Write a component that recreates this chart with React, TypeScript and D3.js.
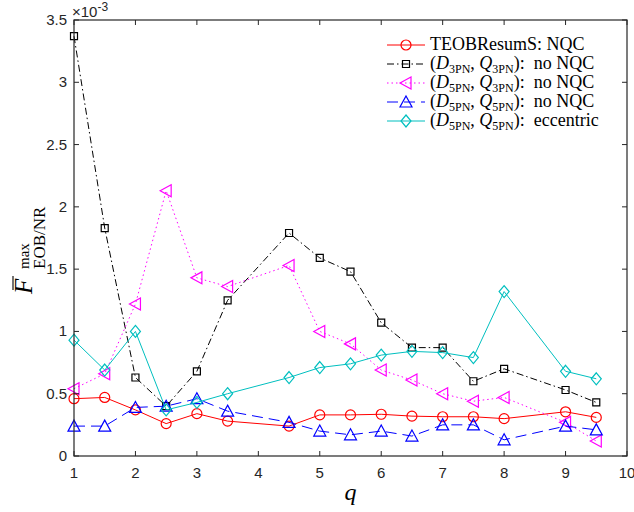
import React from 'react';
import * as d3 from 'd3';

// mass ratio q
const qValues = [1, 1.5, 2, 2.5, 3, 3.5, 4.5, 5, 5.5, 6, 6.5, 7, 7.5, 8, 9, 9.5];

// values in units of 1e-3
const teobNqc = [0.46, 0.47, 0.37, 0.26, 0.34, 0.28, 0.24, 0.33, 0.33, 0.335, 0.32, 0.315, 0.315, 0.30, 0.355, 0.31];
const d3q3NoNqc = [3.37, 1.83, 0.63, 0.40, 0.68, 1.25, 1.79, 1.59, 1.48, 1.07, 0.87, 0.87, 0.60, 0.70, 0.53, 0.43];
const d5q3NoNqc = [0.54, 0.66, 1.22, 2.13, 1.43, 1.36, 1.53, 1.00, 0.90, 0.69, 0.61, 0.50, 0.44, 0.47, 0.27, 0.12];
const d5q5NoNqc = [0.24, 0.24, 0.39, 0.40, 0.46, 0.36, 0.27, 0.20, 0.17, 0.20, 0.16, 0.25, 0.25, 0.13, 0.24, 0.21];
const d5q5Ecc = [0.93, 0.69, 1.00, 0.37, 0.43, 0.50, 0.63, 0.71, 0.74, 0.81, 0.84, 0.83, 0.79, 1.32, 0.68, 0.62];

const xTicks = [1, 2, 3, 4, 5, 6, 7, 8, 9, 10];
const yTicks = [0, 0.5, 1, 1.5, 2, 2.5, 3, 3.5];

type Marker = 'circle' | 'square' | 'triLeft' | 'triUp' | 'diamond';

const series: { key: string; values: number[]; color: string; dash: string; marker: Marker }[] = [
  { key: 'teob', values: teobNqc, color: '#ff0000', dash: '', marker: 'circle' },
  { key: 'd3q3', values: d3q3NoNqc, color: '#000000', dash: '7,3,1.5,3', marker: 'square' },
  { key: 'd5q3', values: d5q3NoNqc, color: '#ff00ff', dash: '1.5,3', marker: 'triLeft' },
  { key: 'd5q5', values: d5q5NoNqc, color: '#0000ff', dash: '11,6', marker: 'triUp' },
  { key: 'ecc', values: d5q5Ecc, color: '#00bfbf', dash: '', marker: 'diamond' },
];

const W = 634;
const H = 512;
const margin = { left: 74, right: 7, top: 20, bottom: 56 };

function markerPath(m: Marker): string {
  switch (m) {
    case 'circle':
      return 'M5,0A5,5 0 1,1 -5,0A5,5 0 1,1 5,0Z';
    case 'square':
      return 'M-3.5,-3.5H3.5V3.5H-3.5Z';
    case 'triLeft':
      return 'M-6,0L5,-6L5,6Z';
    case 'triUp':
      return 'M0,-6L6,5L-6,5Z';
    case 'diamond':
      return 'M0,-6L5,0L0,6L-5,0Z';
  }
}

const Sub = ({ children }: { children: React.ReactNode }) => (
  <tspan fontSize={12} dy={4}>{children}</tspan>
);

function LegendLabel({ i }: { i: number }) {
  if (i === 0) return <>TEOBResumS: NQC</>;
  const pairs = [
    ['3PN', '3PN', 'no NQC'],
    ['5PN', '3PN', 'no NQC'],
    ['5PN', '5PN', 'no NQC'],
    ['5PN', '5PN', 'eccentric'],
  ][i - 1];
  return (
    <>
      <tspan>(</tspan>
      <tspan fontStyle="italic">D</tspan>
      <Sub>{pairs[0]}</Sub>
      <tspan dy={-4}>,{'\u00a0'}</tspan>
      <tspan fontStyle="italic">Q</tspan>
      <Sub>{pairs[1]}</Sub>
      <tspan dy={-4}>):{'\u00a0\u00a0'}{pairs[2]}</tspan>
    </>
  );
}

export default function App() {
  const x = d3.scaleLinear().domain([1, 10]).range([margin.left, W - margin.right]);
  const y = d3.scaleLinear().domain([0, 3.5]).range([H - margin.bottom, margin.top]);
  const line = d3
    .line<number>()
    .x((_, i) => x(qValues[i]))
    .y((d) => y(d));

  const x0 = x.range()[0];
  const x1 = x.range()[1];
  const y0 = y.range()[0];
  const y1 = y.range()[1];
  const tickLen = 5;
  const sans = 'Liberation Sans, Arial, sans-serif';
  const serif = 'Liberation Serif, Times New Roman, serif';

  return (
    <svg width={W} height={H} style={{ position: 'absolute', left: 0, top: 0, background: '#fff' }}>
      <rect width={W} height={H} fill="#fff" />

      {/* series */}
      {series.map((s) => (
        <g key={s.key}>
          <path d={line(s.values) ?? ''} fill="none" stroke={s.color} strokeWidth={1} strokeDasharray={s.dash} />
          {s.values.map((v, i) => (
            <path
              key={i}
              d={markerPath(s.marker)}
              transform={`translate(${x(qValues[i])},${y(v)})`}
              fill="none"
              stroke={s.color}
              strokeWidth={1.2}
            />
          ))}
        </g>
      ))}

      {/* axes box + ticks */}
      <rect x={x0} y={y1} width={x1 - x0} height={y0 - y1} fill="none" stroke="#262626" strokeWidth={1.2} />
      {xTicks.map((t) => (
        <g key={'x' + t}>
          <line x1={x(t)} x2={x(t)} y1={y0} y2={y0 - tickLen} stroke="#262626" />
          <line x1={x(t)} x2={x(t)} y1={y1} y2={y1 + tickLen} stroke="#262626" />
          <text x={x(t)} y={y0 + 22} textAnchor="middle" fontFamily={sans} fontSize={15} fill="#262626">
            {t}
          </text>
        </g>
      ))}
      {yTicks.map((t) => (
        <g key={'y' + t}>
          <line x1={x0} x2={x0 + tickLen} y1={y(t)} y2={y(t)} stroke="#262626" />
          <line x1={x1} x2={x1 - tickLen} y1={y(t)} y2={y(t)} stroke="#262626" />
          <text x={x0 - 7} y={y(t) + 5} textAnchor="end" fontFamily={sans} fontSize={15} fill="#262626">
            {t}
          </text>
        </g>
      ))}

      {/* exponent */}
      <text x={x0 - 2} y={y1 - 3} fontFamily={sans} fontSize={15} fill="#262626">
        ×10<tspan dy={-6} fontSize={12}>-3</tspan>
      </text>

      {/* axis labels */}
      <text x={(x0 + x1) / 2} y={H - 12} textAnchor="middle" fontFamily={serif} fontStyle="italic" fontSize={24}>
        q
      </text>
      <g transform="translate(32,296) rotate(-90)" fontFamily={serif}>
        <line x1={6} x2={20} y1={-19} y2={-19} stroke="#000" strokeWidth={1.1} />
        <text x={2} y={0} fontStyle="italic" fontSize={25}>F</text>
        <text x={27} y={-3} fontSize={15}>max</text>
        <text x={27} y={13} fontSize={17}>EOB/NR</text>
      </g>

      {/* legend */}
      {series.map((s, i) => {
        const ly = 45 + i * 19;
        return (
          <g key={'lg' + s.key}>
            <line x1={387} x2={425} y1={ly} y2={ly} stroke={s.color} strokeDasharray={s.dash} />
            <path d={markerPath(s.marker)} transform={`translate(406,${ly})`} fill="none" stroke={s.color} strokeWidth={1.2} />
            <text x={430} y={ly + 5} fontFamily={serif} fontSize={18} fill="#000">
              <LegendLabel i={i} />
            </text>
          </g>
        );
      })}
    </svg>
  );
}
